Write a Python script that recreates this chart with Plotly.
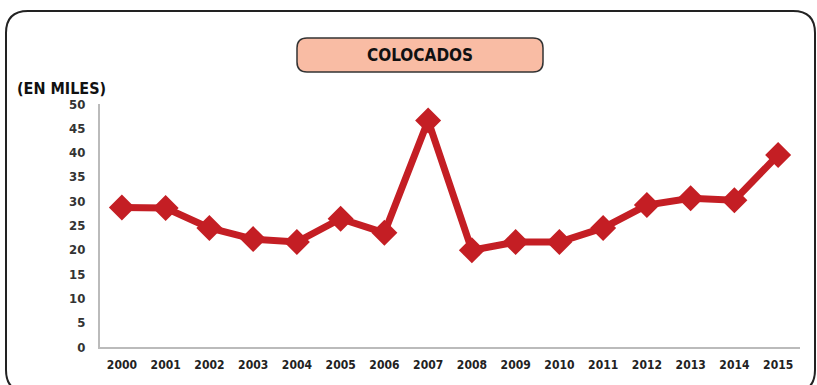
import plotly.graph_objects as go

years = [str(y) for y in range(2000, 2016)]
colocados = [28.7, 28.6, 24.5, 22.2, 21.6, 26.4, 23.5, 46.6, 19.9, 21.6, 21.6, 24.5, 29.2, 30.6, 30.2, 39.5]
y_ticks = [0, 5, 10, 15, 20, 25, 30, 35, 40, 45, 50]

W, H = 817, 385
L, R, T, B = 100, 17, 104, 38
PW, PH = W - L - R, H - T - B

FONT = "DejaVu Sans Condensed, Liberation Sans Narrow, Arial Narrow, sans-serif"

def px(x):
    return (x - L) / PW

def py(y):
    return (H - B - y) / PH

def rrect(x0, y0, x1, y1, r):
    X0, X1 = px(x0), px(x1)
    Y0, Y1 = py(y0), py(y1)
    rx, ry = r / PW, r / PH
    return (f"M {X0+rx},{Y0} L {X1-rx},{Y0} Q {X1},{Y0} {X1},{Y0-ry} "
            f"L {X1},{Y1+ry} Q {X1},{Y1} {X1-rx},{Y1} L {X0+rx},{Y1} "
            f"Q {X0},{Y1} {X0},{Y1+ry} L {X0},{Y0-ry} Q {X0},{Y0} {X0+rx},{Y0} Z")

fig = go.Figure()
fig.add_trace(go.Scatter(
    x=years, y=colocados, mode="lines+markers",
    line=dict(color="#C41E24", width=7),
    marker=dict(symbol="diamond", size=20, color="#C41E24"),
    showlegend=False, cliponaxis=False,
))

fig.update_layout(
    width=W, height=H,
    margin=dict(l=L, r=R, t=T, b=B),
    paper_bgcolor="white", plot_bgcolor="white",
    font=dict(family=FONT, color="#222"),
    xaxis=dict(type="category", showgrid=False, zeroline=False,
               showline=True, linecolor="#BBBBBB", linewidth=2,
               ticks="", ticklabelstandoff=6,
               tickfont=dict(size=12, color="#222", family=FONT, weight="bold"),
               range=[-0.5, 15.5]),
    yaxis=dict(range=[0, 50], tickvals=y_ticks, showgrid=False, zeroline=False,
               showline=True, linecolor="#BBBBBB", linewidth=2,
               ticks="outside", ticklen=10, tickcolor="rgba(0,0,0,0)",
               tickfont=dict(size=13, color="#333", family=FONT, weight="bold")),
    shapes=[
        dict(type="path", xref="paper", yref="paper", path=rrect(6, 11, 815, 392, 22),
             line=dict(color="#222", width=2), fillcolor="rgba(0,0,0,0)", layer="below"),
        dict(type="path", xref="paper", yref="paper", path=rrect(297, 38, 543, 72, 10),
             line=dict(color="#333", width=1.5), fillcolor="#F9BCA4", layer="above"),
    ],
    annotations=[
        dict(text="<b>COLOCADOS</b>", xref="paper", yref="paper", x=px(420), y=py(55),
             showarrow=False, xanchor="center", yanchor="middle",
             font=dict(size=17, color="#111", family=FONT)),
        dict(text="<b>(EN MILES)</b>", xref="paper", yref="paper", x=px(15), y=py(88),
             showarrow=False, xanchor="left", yanchor="middle",
             font=dict(size=16, color="#111", family=FONT)),
    ],
)

fig.write_html("out.html", config={"displayModeBar": False},
               post_script="document.body.style.margin='0';document.body.style.overflow='hidden';")
